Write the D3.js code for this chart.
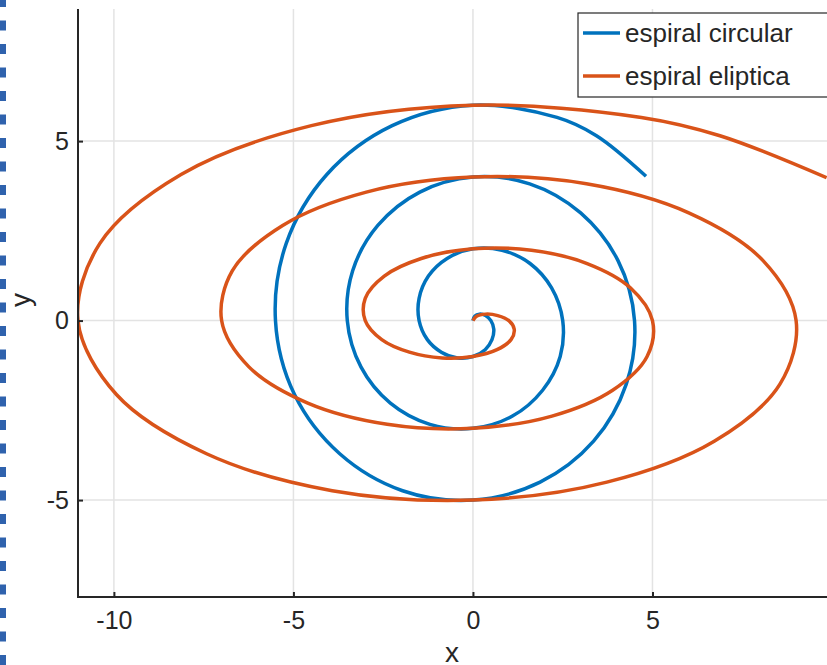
<!DOCTYPE html>
<html>
<head>
<meta charset="utf-8">
<script src="https://cdn.jsdelivr.net/npm/d3@7"></script>
<style>
  html, body { margin: 0; padding: 0; background: #fff; }
  svg { display: block; font-family: "Liberation Sans", Arial, sans-serif; }
</style>
</head>
<body>
<div id="chart"></div>
<script>
// puntos (cada 1/16 de vuelta)
const circX = [0, 0.05, 0.18, 0.35, 0.5, 0.58, 0.53, 0.34, 0, -0.43, -0.88, -1.27, -1.5, -1.5, -1.24, -0.72,
    0, 0.81, 1.59, 2.19, 2.5, 2.43, 1.94, 1.1, 0, -1.2, -2.3, -3.12, -3.5, -3.35, -2.65, -1.48,
    0, 1.58, 3.0, 4.04, 4.5, 4.27, 3.36, 1.87, 0, -1.96, -3.71, -4.97, -5.5, -5.2, -4.07, -2.25,
    0, 2.34, 3.44, 4.82];
const circY = [0, 0.12, 0.18, 0.14, 0, -0.24, -0.53, -0.81, -1, -1.04, -0.88, -0.53, 0, 0.62, 1.24, 1.73,
    2, 1.96, 1.59, 0.91, 0, -1.0, -1.94, -2.66, -3, -2.89, -2.3, -1.29, 0, 1.39, 2.65, 3.58,
    4, 3.81, 3.0, 1.67, 0, -1.77, -3.36, -4.5, -5, -4.74, -3.71, -2.06, 0, 2.15, 4.07, 5.43,
    6, 5.66, 5.15, 4.02];
const elipX = [0, 0.1, 0.35, 0.69, 1.0, 1.15, 1.06, 0.67, 0, -0.86, -1.77, -2.54, -3.0, -3.0, -2.47, -1.44,
    0, 1.63, 3.18, 4.39, 5.0, 4.85, 3.89, 2.2, 0, -2.39, -4.6, -6.24, -7.0, -6.7, -5.3, -2.97,
    0, 3.16, 6.01, 8.08, 9.0, 8.55, 6.72, 3.73, 0, -3.92, -7.42, -9.93, -11.0, -10.39, -8.13, -4.5,
    0, 4.69, 6.88, 9.85];
const elipY = [0, 0.12, 0.18, 0.14, 0, -0.24, -0.53, -0.81, -1, -1.04, -0.88, -0.53, 0, 0.62, 1.24, 1.73,
    2, 1.96, 1.59, 0.91, 0, -1.0, -1.94, -2.66, -3, -2.89, -2.3, -1.29, 0, 1.39, 2.65, 3.58,
    4, 3.81, 3.0, 1.67, 0, -1.77, -3.36, -4.5, -5, -4.74, -3.71, -2.06, 0, 2.15, 4.07, 5.43,
    6, 5.66, 5.15, 3.98];
const xTicks = [-10, -5, 0, 5];
const yTicks = [-5, 0, 5];
const seriesNames = ["espiral circular", "espiral eliptica"];
const seriesColors = ["#0072BD", "#D95319"];

const width = 827, height = 665;
const plot = { left: 78, top: 9, right: 832, bottom: 597 };

const svg = d3.select("#chart").append("svg")
    .attr("width", width)
    .attr("height", height);

// borde punteado a la izquierda
svg.append("line")
    .attr("x1", 3).attr("x2", 3)
    .attr("y1", 0).attr("y2", height)
    .attr("stroke", "#2f62ad")
    .attr("stroke-width", 6)
    .attr("stroke-dasharray", "10 13.5")
    .attr("stroke-dashoffset", 3);

const x = d3.scaleLinear().domain([-11, 10]).range([plot.left, plot.right]);
const y = d3.scaleLinear().domain([-7.7, 8.68]).range([plot.bottom, plot.top]);

svg.append("clipPath").attr("id", "clip")
    .append("rect")
    .attr("x", plot.left).attr("y", plot.top)
    .attr("width", plot.right - plot.left).attr("height", plot.bottom - plot.top);

// grid
const grid = svg.append("g").attr("class", "grid");
grid.selectAll(".gx").data(xTicks).enter().append("line")
    .attr("x1", d => x(d)).attr("x2", d => x(d))
    .attr("y1", plot.top).attr("y2", plot.bottom)
    .attr("stroke", "#e3e3e3").attr("stroke-width", 1.5);
grid.selectAll(".gy").data(yTicks).enter().append("line")
    .attr("x1", plot.left).attr("x2", plot.right)
    .attr("y1", d => y(d)).attr("y2", d => y(d))
    .attr("stroke", "#e3e3e3").attr("stroke-width", 1.5);

// curvas
const line = d3.line()
    .x(d => x(d[0]))
    .y(d => y(d[1]))
    .curve(d3.curveCatmullRom.alpha(0.5));

const series = [
    d3.zip(circX, circY),
    d3.zip(elipX, elipY)
];

const curves = svg.append("g").attr("clip-path", "url(#clip)");
curves.selectAll("path").data(series).enter().append("path")
    .attr("d", line)
    .attr("fill", "none")
    .attr("stroke", (d, i) => seriesColors[i])
    .attr("stroke-width", 3.5)
    .attr("stroke-linejoin", "round");

// ejes
const xAxis = d3.axisBottom(x).tickValues(xTicks).tickSize(-5).tickPadding(14);
const yAxis = d3.axisLeft(y).tickValues(yTicks).tickSize(-5).tickPadding(9);

const gx = svg.append("g").attr("transform", `translate(0,${plot.bottom})`).call(xAxis);
const gy = svg.append("g").attr("transform", `translate(${plot.left},0)`).call(yAxis);

[gx, gy].forEach(g => {
    g.select(".domain").remove();
    g.selectAll(".tick line").attr("stroke", "#262626").attr("stroke-width", 2);
    g.selectAll(".tick text")
        .attr("fill", "#262626")
        .style("font-size", "25px")
        .text(d => d < 0 ? "-" + Math.abs(d) : d);
});

svg.append("line")
    .attr("x1", plot.left).attr("x2", plot.left)
    .attr("y1", plot.top).attr("y2", plot.bottom + 1)
    .attr("stroke", "#262626").attr("stroke-width", 2);
svg.append("line")
    .attr("x1", plot.left - 1).attr("x2", width)
    .attr("y1", plot.bottom).attr("y2", plot.bottom)
    .attr("stroke", "#262626").attr("stroke-width", 2);

// etiquetas
svg.append("text")
    .attr("x", 452)
    .attr("y", 662)
    .attr("text-anchor", "middle")
    .attr("fill", "#262626")
    .style("font-size", "28px")
    .text("x");
svg.append("text")
    .attr("transform", `translate(30, 300) rotate(-90)`)
    .attr("text-anchor", "middle")
    .attr("fill", "#262626")
    .style("font-size", "28px")
    .text("y");

// leyenda
const legend = svg.append("g").attr("transform", "translate(578, 13)");
legend.append("rect")
    .attr("width", 270).attr("height", 84)
    .attr("fill", "#fff")
    .attr("stroke", "#262626").attr("stroke-width", 1.2);
const items = legend.selectAll(".item").data(seriesNames).enter().append("g")
    .attr("transform", (d, i) => `translate(0, ${20 + i * 43})`);
items.append("line")
    .attr("x1", 5).attr("x2", 42)
    .attr("stroke", (d, i) => seriesColors[i])
    .attr("stroke-width", 3.5);
items.append("text")
    .attr("x", 47)
    .attr("dy", "0.35em")
    .attr("fill", "#262626")
    .style("font-size", "26px")
    .text(d => d);
</script>
</body>
</html>
